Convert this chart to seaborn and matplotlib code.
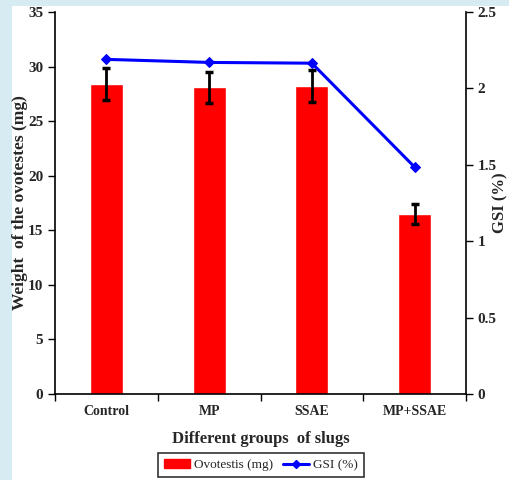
import matplotlib
matplotlib.use("Agg")
import matplotlib.pyplot as plt
import matplotlib.patches as mpatches
import matplotlib.lines as mlines
import numpy as np
import pandas as pd
import seaborn as sns

groups = ['Control', 'MP', 'SSAE', 'MP+SSAE']
ovotestis = [28.4, 28.1, 28.2, 16.5]
ovotestis_err = [1.45, 1.4, 1.45, 0.9]
gsi = [2.19, 2.17, 2.165, 1.485]

sns.set_style('ticks')
plt.rcParams['font.family'] = ['Liberation Serif', 'DejaVu Serif']
plt.rcParams['font.weight'] = 'bold'

df = pd.DataFrame({'group': groups, 'weight': ovotestis, 'err': ovotestis_err, 'gsi': gsi})

fig = plt.figure(figsize=(5.09, 4.8), dpi=100)
fig.patch.set_facecolor('#d7ebf2')
fig.patches.append(mpatches.Rectangle((12/509, 0), 1, 1 - 6/480, transform=fig.transFigure,
                                      facecolor='white', edgecolor='none', zorder=-10))

ax = fig.add_axes([55/509, 86/480, 411/509, 382/480])
ax.set_facecolor('none')
sns.barplot(data=df, x='group', y='weight', color='red', width=0.32, saturation=1, ax=ax)
ax.errorbar(x=np.arange(len(groups)), y=df['weight'], yerr=df['err'], fmt='none',
            ecolor='black', elinewidth=2, capsize=3, capthick=2.5, zorder=5)

ax.set_xlim(-0.5, 3.5)
ax.set_ylim(0, 35)
ax.set_yticks(np.arange(0, 36, 5))
ax.set_xticks(np.arange(-0.5, 4, 1), minor=True)
ax.tick_params(axis='x', which='major', length=0, labelsize=10, pad=8)
ax.tick_params(axis='x', which='minor', length=5, width=1, direction='out', color='black')
ax.tick_params(axis='y', length=5, width=1, direction='out', labelsize=11, color='black')
for lbl in ax.get_xticklabels() + ax.get_yticklabels():
    lbl.set_fontweight('bold')
ax.set_xlabel('Different groups  of slugs', fontsize=12, fontweight='bold', labelpad=9)
ax.set_ylabel('Weight  of the ovotestes (mg)', fontsize=12.5, fontweight='bold', labelpad=0)
for side in ['left', 'bottom']:
    ax.spines[side].set_color('black')
    ax.spines[side].set_linewidth(1.2)
ax.spines['top'].set_visible(False)
ax.spines['right'].set_visible(False)

ax2 = ax.twinx()
sns.lineplot(x=np.arange(len(groups)), y=df['gsi'], ax=ax2, color='blue', linewidth=2.2,
             marker='D', markersize=5, markeredgecolor='blue')
ax2.set_ylim(0, 2.5)
ax2.set_yticks([0, 0.5, 1, 1.5, 2, 2.5])
ax2.set_yticklabels(['0', '0.5', '1', '1.5', '2', '2.5'])
ax2.tick_params(axis='y', length=5, width=1, direction='out', labelsize=11, color='black')
for lbl in ax2.get_yticklabels():
    lbl.set_fontweight('bold')
ax2.set_ylabel('GSI (%)', fontsize=12, fontweight='bold')
ax2.yaxis.set_label_coords(1.064, 0.5)
ax2.spines['top'].set_visible(False)
ax2.spines['left'].set_visible(False)
ax2.spines['bottom'].set_visible(False)
ax2.spines['right'].set_color('black')
ax2.spines['right'].set_linewidth(1.2)

h1 = mpatches.Patch(color='red', label='Ovotestis (mg)')
h2 = mlines.Line2D([], [], color='blue', linewidth=2.2, marker='D', markersize=4, label='GSI (%)')
leg = fig.legend(handles=[h1, h2], loc='upper center', bbox_to_anchor=(261/509, 1 - 453/480),
                 ncol=2, frameon=True, fancybox=False, edgecolor='black', fontsize=9.5,
                 handlelength=2.0, handletextpad=0.3, columnspacing=0.7, borderpad=0.45,
                 borderaxespad=0)
leg.get_frame().set_linewidth(1.2)
for t in leg.get_texts():
    t.set_fontweight('normal')

fig.savefig('out.png', dpi=100, facecolor=fig.get_facecolor())
